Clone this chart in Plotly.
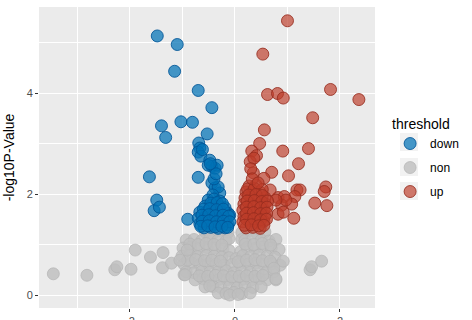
import plotly.graph_objects as go

# ---- data (log2 fold change, -log10 P) ----
non_x = [-0.57, -0.42, -0.27, -0.13, 0.13, 0.27, 0.42, 0.57,
         -0.93, -0.78, -0.63, -0.48, -0.32, -0.17, -0.11, 0.13, 0.19, 0.34, 0.50, 0.65, 0.78,
         -0.99, -0.84, -0.69, -0.53, -0.38, -0.23, -0.11, 0.11, 0.23, 0.38, 0.53, 0.69, 0.84,
         -1.01, -0.86, -0.71, -0.55, -0.40, -0.25, -0.11, 0.02, 0.15, 0.30, 0.46, 0.61, 0.76,
         -0.97, -0.82, -0.67, -0.51, -0.36, -0.21, -0.06, 0.10, 0.25, 0.40, 0.55, 0.70, 0.86,
         -0.93, -0.78, -0.63, -0.48, -0.32, -0.17, -0.02, 0.13, 0.29, 0.44, 0.59, 0.74,
         -0.76, -0.61, -0.46, -0.30, -0.15, 0.00, 0.15, 0.30, 0.46, 0.61,
         -0.57, -0.42, -0.27, -0.11, 0.04, 0.19, 0.34, 0.50,
         -0.32, -0.17, -0.02, 0.13, 0.29,
         -0.10, 0.06,
         -0.86, -0.70, -0.55, -0.40, -0.25, 0.20, 0.36, 0.52, 0.68,
         -0.90, -0.75, -0.58, -0.44, -0.28, 0.06, 0.22, 0.38, 0.52, 0.67,
         -0.68, -0.52, -0.37, -0.22, -0.06, 0.08, 0.22, 0.38, 0.53,
         -3.46, -2.82, -2.29, -2.25, -1.98, -1.90, -1.61, -1.37, -1.38, -1.21,
         -1.05, -0.91, -0.97, -0.95, -0.48,
         1.43, 1.46, 1.65, 0.78, 0.92, 0.74, 0.78]
non_y = [1.25, 1.22, 1.27, 1.24, 1.24, 1.27, 1.22, 1.25,
         1.09, 1.10, 1.08, 1.11, 1.09, 1.07, 1.12, 1.10, 1.08, 1.11, 1.09, 1.07, 1.10,
         0.93, 0.95, 0.92, 0.94, 0.93, 0.91, 0.88, 0.86, 0.94, 0.92, 0.95, 0.93, 0.90,
         0.77, 0.79, 0.76, 0.78, 0.77, 0.75, 0.74, 0.72, 0.78, 0.76, 0.79, 0.77, 0.75,
         0.61, 0.63, 0.60, 0.62, 0.61, 0.59, 0.60, 0.62, 0.61, 0.63, 0.60, 0.62, 0.59,
         0.46, 0.44, 0.47, 0.45, 0.46, 0.48, 0.44, 0.46, 0.45, 0.47, 0.44, 0.46,
         0.30, 0.32, 0.29, 0.31, 0.30, 0.28, 0.31, 0.29, 0.32, 0.30,
         0.16, 0.17, 0.15, 0.16, 0.14, 0.17, 0.15, 0.16,
         0.04, 0.03, 0.05, 0.03, 0.04,
         0.00, 0.01,
         1.01, 1.00, 1.02, 1.00, 0.99, 1.01, 1.00, 1.02, 0.99,
         0.69, 0.70, 0.68, 0.69, 0.67, 0.66, 0.69, 0.70, 0.68, 0.67,
         0.38, 0.37, 0.39, 0.38, 0.36, 0.37, 0.38, 0.37, 0.39,
         0.42, 0.39, 0.50, 0.56, 0.51, 0.89, 0.75, 0.84, 0.54, 0.63,
         0.69, 0.89, 0.40, 0.40, 0.18,
         0.50, 0.56, 0.67, 0.30, 0.67, 0.53, 0.32]

down_x = [-1.48, -1.10, -1.15, -0.70, -0.44, -1.40, -1.03, -0.81, -1.32, -0.53,
          -0.69, -0.67, -0.70, -0.65, -0.48, -0.44, -0.38, -0.34, -0.51, -1.63,
          -0.70, -0.44, -0.38, -0.29, -0.32, -0.42, -1.49, -1.54, -1.44, -0.90,
          -0.51, -0.40, -0.29,
          -0.57, -0.44, -0.30, -0.19,
          -0.67, -0.53, -0.40, -0.27, -0.13,
          -0.70, -0.57, -0.44, -0.30, -0.17,
          -0.67, -0.53, -0.40, -0.27, -0.13,
          -0.59, -0.46, -0.32, -0.19, -0.10,
          -0.46, -0.34, -0.24,
          -0.60, -0.48, -0.35, -0.22,
          -0.63, -0.50, -0.37, -0.23, -0.12,
          -0.62, -0.49, -0.35, -0.22, -0.10,
          -0.65, -0.52, -0.38, -0.25, -0.14,
          -0.40, -0.36, -0.47, -0.62]
down_y = [5.13, 4.96, 4.43, 4.05, 3.71, 3.35, 3.43, 3.42, 3.12, 3.19,
          3.01, 2.91, 2.83, 2.75, 2.67, 2.55, 2.51, 2.57, 2.57, 2.34,
          2.33, 2.22, 2.12, 2.02, 2.14, 1.98, 1.88, 1.67, 1.74, 1.50,
          1.88, 1.90, 1.86,
          1.76, 1.78, 1.75, 1.73,
          1.64, 1.66, 1.63, 1.65, 1.62,
          1.52, 1.54, 1.51, 1.53, 1.50,
          1.41, 1.43, 1.40, 1.42, 1.39,
          1.33, 1.34, 1.32, 1.33, 1.58,
          1.82, 1.83, 1.81,
          1.70, 1.71, 1.69, 1.70,
          1.58, 1.59, 1.57, 1.58, 1.56,
          1.46, 1.47, 1.45, 1.46, 1.45,
          1.36, 1.37, 1.35, 1.36, 1.34,
          2.30, 2.40, 2.60, 2.88]

up_x = [1.00, 0.53, 0.62, 0.81, 0.92, 1.82, 2.36, 1.48, 0.56, 0.47,
        0.32, 0.41, 0.29, 0.36, 0.91, 1.40, 1.21, 0.35, 0.70, 0.55,
        1.02, 1.73, 1.70, 1.18, 1.24, 1.14, 0.82, 0.94, 0.89, 1.08,
        1.52, 1.75, 0.82, 0.92, 1.12, 0.97, 0.78, 0.67,
        0.27, 0.40,
        0.21, 0.34, 0.48,
        0.19, 0.32, 0.46, 0.57,
        0.17, 0.30, 0.44, 0.57,
        0.15, 0.29, 0.42, 0.55,
        0.17, 0.30, 0.44, 0.57,
        0.15, 0.29, 0.42, 0.55,
        0.21, 0.34, 0.48,
        0.24, 0.37, 0.52,
        0.26, 0.40, 0.52,
        0.23, 0.37, 0.51, 0.62,
        0.22, 0.36, 0.49, 0.61,
        0.22, 0.35, 0.49, 0.60,
        0.22, 0.36, 0.49, 0.60,
        0.18, 0.31, 0.45, 0.55,
        0.30, 0.33, 0.44]
up_y = [5.43, 4.77, 3.97, 3.99, 3.90, 4.07, 3.87, 3.51, 3.27, 3.00,
        2.85, 2.76, 2.64, 2.71, 2.85, 2.90, 2.60, 2.42, 2.43, 2.31,
        2.36, 2.14, 2.05, 2.08, 2.08, 1.95, 1.93, 1.95, 1.78, 1.80,
        1.82, 1.77, 1.60, 1.64, 1.52, 1.88, 1.88, 2.08,
        2.16, 2.18,
        2.04, 2.06, 2.03,
        1.92, 1.94, 1.91, 1.93,
        1.80, 1.82, 1.79, 1.81,
        1.68, 1.70, 1.67, 1.69,
        1.56, 1.58, 1.55, 1.57,
        1.45, 1.47, 1.44, 1.46,
        1.33, 1.34, 1.32,
        2.10, 2.11, 2.09,
        1.98, 1.99, 1.97,
        1.86, 1.87, 1.85, 1.86,
        1.74, 1.75, 1.73, 1.74,
        1.62, 1.63, 1.61, 1.62,
        1.50, 1.51, 1.49, 1.50,
        1.38, 1.39, 1.37, 1.38,
        2.50, 2.30, 2.22]

x_ticks = [-2, 0, 2]
y_ticks = [0, 2, 4]

FONT = "Liberation Sans, Arial, sans-serif"

fig = go.Figure()

def add(name, xs, ys, fill, line, rank):
    fig.add_trace(go.Scatter(
        x=xs, y=ys, mode="markers", name=name, legendgroup=name, legendrank=rank,
        marker=dict(size=12, color=fill, line=dict(color=line, width=1)),
    ))

add("non", non_x, non_y, "rgba(190,190,190,0.8)", "rgba(180,180,180,0.7)", 2)
add("down", down_x, down_y, "rgba(0,114,181,0.72)", "rgba(0,85,150,0.85)", 1)
add("up", up_x, up_y, "rgba(188,60,41,0.68)", "rgba(150,45,30,0.85)", 3)

# legend key backgrounds
for yy in [142, 167, 191]:
    fig.add_shape(type="rect", xref="paper", yref="paper",
                  x0=(400 - 39) / 336, x1=(418 - 39) / 336,
                  y0=(308 - (yy + 9)) / 301, y1=(308 - (yy - 9)) / 301,
                  fillcolor="#F2F2F2", line_width=0, layer="below")

axis_common = dict(
    showline=False, zeroline=False, showgrid=True, gridcolor="white", gridwidth=1.4,
    ticks="outside", ticklen=3, tickcolor="#333333", tickwidth=1,
    tickfont=dict(family=FONT, size=11, color="#4D4D4D"),
)

fig.update_xaxes(range=[-3.733, 2.667], tickvals=x_ticks, ticktext=[str(v) for v in x_ticks],
                 minor=dict(dtick=1, tick0=0, showgrid=True, gridcolor="white", gridwidth=0.6, ticks=""),
                 **axis_common)
fig.update_yaxes(range=[-0.257, 5.703], tickvals=y_ticks, ticktext=[str(v) for v in y_ticks],
                 minor=dict(dtick=1, tick0=1, showgrid=True, gridcolor="white", gridwidth=0.6, ticks=""),
                 title=dict(text="-log10P-Value", standoff=8,
                            font=dict(family=FONT, size=14, color="black")),
                 **axis_common)

fig.update_layout(
    width=472, height=320,
    margin=dict(l=39, r=97, t=7, b=12, autoexpand=False),
    paper_bgcolor="white", plot_bgcolor="#EBEBEB",
    showlegend=True,
    legend=dict(
        title=dict(text="threshold", font=dict(family=FONT, size=14, color="black")),
        font=dict(family=FONT, size=12, color="black"),
        x=1.045, xanchor="left", y=0.655, yanchor="top",
        traceorder="grouped", tracegroupgap=5, bgcolor="rgba(0,0,0,0)", itemwidth=30,
    ),
)

fig.write_html("out.html")
